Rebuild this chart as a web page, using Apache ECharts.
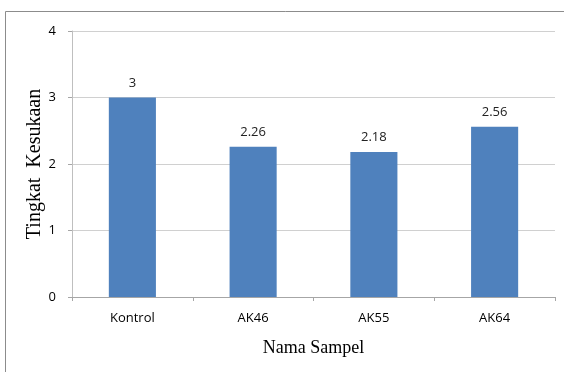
<!DOCTYPE html>
<html>
<head>
<meta charset="utf-8">
<script src="https://cdn.jsdelivr.net/npm/echarts@6/dist/echarts.min.js"></script>
<style>
  html, body { margin: 0; padding: 0; background: #fff; }
  #chart { width: 564px; height: 372px; }
</style>
</head>
<body>
<div id="chart"></div>
<script>
// Preference scores per sample
const categories = ['Kontrol', 'AK46', 'AK55', 'AK64'];
const scores = [3, 2.26, 2.18, 2.56];
const yTicks = [0, 1, 2, 3, 4];

const chart = echarts.init(document.getElementById('chart'), null, { renderer: 'canvas' });

chart.setOption({
  animation: false,
  backgroundColor: '#ffffff',
  graphic: [{
    type: 'rect',
    shape: { x: 5.5, y: 11.5, width: 700, height: 500 },
    style: { fill: 'none', stroke: '#8c8c8c', lineWidth: 1 },
    silent: true
  }],
  grid: { left: 72, right: 9, top: 31, bottom: 75, containLabel: false },
  xAxis: {
    type: 'category',
    data: categories,
    name: 'Nama Sampel',
    nameLocation: 'middle',
    nameGap: 42,
    nameMoveOverlap: false,
    nameTextStyle: { fontFamily: 'Liberation Serif', fontSize: 18, color: '#000' },
    axisLine: { lineStyle: { color: '#a6a6a6' } },
    axisTick: { show: true, length: 4, inside: false, lineStyle: { color: '#a6a6a6' } },
    axisLabel: { fontFamily: 'Open Sans', fontSize: 13, color: '#000', margin: 15 }
  },
  yAxis: {
    type: 'value',
    min: yTicks[0],
    max: yTicks[yTicks.length - 1],
    interval: 1,
    name: 'Tingkat  Kesukaan',
    nameLocation: 'middle',
    nameGap: 27,
    nameMoveOverlap: false,
    nameRotate: 90,
    nameTextStyle: { fontFamily: 'Liberation Serif', fontSize: 20, color: '#000' },
    axisLine: { show: true, lineStyle: { color: '#bfbfbf' } },
    axisTick: { show: true, length: 4, lineStyle: { color: '#a6a6a6' } },
    splitLine: { lineStyle: { color: '#d0d0d0' } },
    axisLabel: { fontFamily: 'Open Sans', fontSize: 13, color: '#000', margin: 16 }
  },
  series: [{
    type: 'bar',
    data: scores,
    barWidth: '39%',
    itemStyle: { color: '#4f81bd' },
    label: {
      show: true,
      position: 'top',
      distance: 8,
      fontFamily: 'Open Sans',
      fontSize: 13,
      color: '#222'
    }
  }]
});
</script>
</body>
</html>
